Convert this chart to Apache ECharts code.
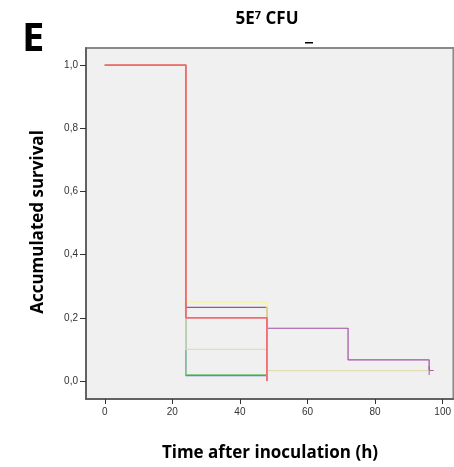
<!DOCTYPE html>
<html>
<head>
<meta charset="utf-8">
<script src="https://cdn.jsdelivr.net/npm/echarts@6/dist/echarts.min.js"></script>
<style>
  html, body { margin: 0; padding: 0; background: #fff; }
  #chart { width: 454px; height: 467px; }
</style>
</head>
<body>
<div id="chart"></div>
<script>
// tick labels
var xTicks = [0, 20, 40, 60, 80, 100];
var yTicks = [0, 0.2, 0.4, 0.6, 0.8, 1.0];

// Kaplan-Meier step points [time (h), survival]
var blueCurve   = [[0, 1], [24, 0.017], [48, 0]];
var greenCurve  = [[0, 1], [24, 0.02], [48, 0]];
var khakiCurve  = [[0, 1], [24, 0.1], [48, 0.033], [96, 0.033]];
var purpleCurve = [[0, 1], [24, 0.233], [48, 0.167], [72, 0.067], [96, 0.033]];
var yellowCurve = [[0, 1], [24, 0.25], [48, 0]];
var redCurve    = [[0, 1], [24, 0.2], [48, 0]];
// censored observations
var censored = [[96, 0.033]];

var chart = echarts.init(document.getElementById('chart'));

function kmLine(name, data, color, width) {
  return {
    name: name,
    type: 'line',
    step: 'end',
    data: data,
    symbol: 'none',
    silent: true,
    lineStyle: { color: color, width: width || 1.2 }
  };
}

var option = {
  animation: false,
  backgroundColor: '#fff',
  grid: {
    left: 86, right: -2, top: 48, bottom: 68,
    show: true,
    backgroundColor: '#f0f0f0',
    borderColor: '#8a8a8a',
    borderWidth: 2
  },
  xAxis: {
    type: 'value',
    min: -5.56, max: 103.2,
    splitLine: { show: false },
    axisLine: { show: true, onZero: false, lineStyle: { color: '#555', width: 1.5 } },
    axisTick: { show: true, length: 5, customValues: xTicks, lineStyle: { color: '#333' } },
    axisLabel: {
      customValues: xTicks, margin: 8,
      fontFamily: 'Liberation Sans', fontSize: 10, color: '#333'
    }
  },
  yAxis: {
    type: 'value',
    min: -0.057, max: 1.054,
    splitLine: { show: false },
    axisLine: { show: true, onZero: false, lineStyle: { color: '#555', width: 1.5 } },
    axisTick: { show: true, length: 6, customValues: yTicks, lineStyle: { color: '#333' } },
    axisLabel: {
      customValues: yTicks, margin: 8,
      fontFamily: 'Liberation Sans', fontSize: 10, color: '#333',
      formatter: function (v) { return v.toFixed(1).replace('.', ','); }
    }
  },
  series: [
    kmLine('blue', blueCurve, '#5b70c4'),
    kmLine('green', greenCurve, '#84d084'),
    kmLine('khaki', khakiCurve, '#e2dcae'),
    kmLine('purple', purpleCurve, '#a050a4'),
    kmLine('yellow', yellowCurve, '#f8f77c'),
    kmLine('red', redCurve, '#f46a74', 1.8),
    {
      name: 'censored',
      type: 'scatter',
      data: censored,
      symbol: 'path://M4,0h1v4h4v1h-4v4h-1v-4h-4v-1h4z',
      symbolSize: 9,
      silent: true,
      itemStyle: { color: '#8a3a8e' }
    }
  ],
  graphic: [
    {
      type: 'text', left: 22, top: 20,
      style: { text: 'E', fontFamily: 'Open Sans', fontWeight: 'bold', fontSize: 40, fill: '#000' }
    },
    {
      type: 'text', x: 267, y: 19,
      style: {
        text: '5E{sup|7} CFU', align: 'center', verticalAlign: 'middle',
        fontFamily: 'Open Sans', fontWeight: 'bold', fontSize: 17, fill: '#000',
        rich: { sup: { fontSize: 11, fontWeight: 'bold', fontFamily: 'Open Sans', verticalAlign: 'top', padding: [0, 0, 7, 0] } }
      }
    },
    {
      type: 'rect', shape: { x: 305, y: 42, width: 8, height: 1.5 },
      style: { fill: '#000' }
    },
    {
      type: 'text', x: 38, y: 222, rotation: Math.PI / 2,
      style: {
        text: 'Accumulated survival', align: 'center', verticalAlign: 'middle',
        fontFamily: 'Open Sans', fontWeight: 'bold', fontSize: 17, fill: '#000'
      }
    },
    {
      type: 'text', x: 270, y: 453,
      style: {
        text: 'Time after inoculation (h)', align: 'center', verticalAlign: 'middle',
        fontFamily: 'Open Sans', fontWeight: 'bold', fontSize: 17, fill: '#000'
      }
    }
  ]
};

chart.setOption(option);
</script>
</body>
</html>
